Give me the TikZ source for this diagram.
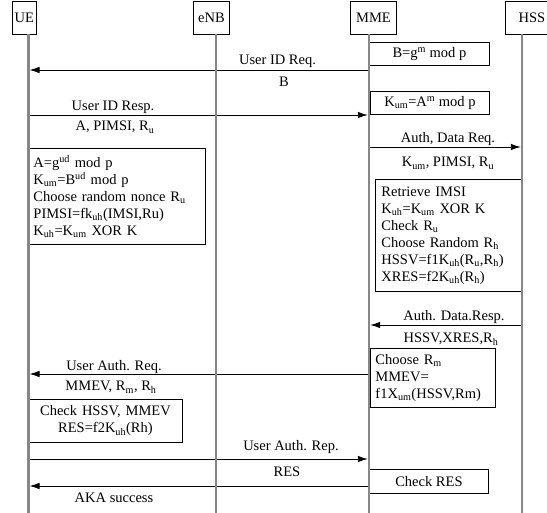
\documentclass[tikz,border=0pt]{standalone}
\usepackage{fontspec}
\setmainfont{Liberation Serif}
\usetikzlibrary{arrows.meta}
\definecolor{lifegray}{RGB}{135,135,135}
\begin{document}
\begin{tikzpicture}[x=1pt,y=-1pt,
  every node/.style={font=\fontsize{14.5}{17}\selectfont, inner sep=0pt},
  box/.style={draw=black, line width=0.9pt, inner sep=0pt},
  lifeline/.style={draw=lifegray, line width=2.6pt},
  msg/.style={draw=black, line width=0.9pt, shorten >=1.2pt, -{Latex[length=10pt,width=6.5pt]}},
  lbl/.style={anchor=base},
]
\useasboundingbox (0,0) rectangle (547,513);
\clip (0,0) rectangle (547,513);

% ---- header boxes
\node[box, anchor=north west, minimum width=24.3pt, minimum height=33pt] (ue) at (11.7,1) {UE};
\node[box, anchor=north west, minimum width=36pt, minimum height=33pt] (enb) at (193,1) {eNB};
\node[box, anchor=north west, minimum width=46pt, minimum height=33pt] (mme) at (350,1) {MME};
\node[box, anchor=north west, minimum width=53pt, minimum height=33pt] (hss) at (505,1) {HSS};

% ---- lifeline end points
\coordinate (ueT) at (28.3,34);  \coordinate (ueB) at (28.3,514);
\coordinate (enbT) at (216,34);  \coordinate (enbB) at (216,514);
\coordinate (mmeT) at (369,34);  \coordinate (mmeB) at (369,514);
\coordinate (hssT) at (522,34);  \coordinate (hssB) at (522,514);

% ---- computation boxes
\node[box, anchor=north west, minimum width=120pt, minimum height=23pt] (bbox) at (369,42)
  {B=g\textsuperscript{m} mod p};
\node[box, anchor=north west, minimum width=119pt, minimum height=23pt] (kbox) at (370,91)
  {K\textsubscript{um}=A\textsuperscript{m} mod p};
\node[box, anchor=north west, inner xsep=5pt, text width=167pt, minimum height=96pt, align=left] (uebox) at (28,148)
  {A=g\textsuperscript{ud} mod p\\
   K\textsubscript{um}=B\textsuperscript{ud} mod p\\
   Choose random nonce R\textsubscript{u}\\
   PIMSI=fk\textsubscript{uh}(IMSI,Ru)\\
   K\textsubscript{uh}=K\textsubscript{um} XOR K};
\node[box, anchor=north west, inner xsep=6pt, text width=135pt, minimum height=112pt, align=left] (hssbox) at (375,179)
  {Retrieve IMSI\\
   K\textsubscript{uh}=K\textsubscript{um} XOR K\\
   Check R\textsubscript{u}\\
   Choose Random R\textsubscript{h}\\
   HSSV=f1K\textsubscript{uh}(R\textsubscript{u},R\textsubscript{h})\\
   XRES=f2K\textsubscript{uh}(R\textsubscript{h})};
\node[box, anchor=north west, inner xsep=5pt, text width=115pt, minimum height=59pt, align=left] (mmebox) at (370,348)
  {Choose R\textsubscript{m}\\
   MMEV=\\
   f1X\textsubscript{um}(HSSV,Rm)};
\node[box, anchor=north west, inner xsep=5pt, text width=144pt, minimum height=43pt, align=center] (uebox2) at (28,399)
  {Check HSSV, MMEV\\
   RES=f2K\textsubscript{uh}(Rh)};
\node[box, anchor=north west, minimum width=119pt, minimum height=24pt] (resbox) at (369,469)
  {Check RES};

% ---- message end points
\coordinate (m1s) at (369,70);  \coordinate (m1e) at (28.3,70);
\coordinate (m2s) at (28.3,115); \coordinate (m2e) at (369,115);
\coordinate (m3s) at (369,147); \coordinate (m3e) at (522,147);
\coordinate (m4s) at (522,325); \coordinate (m4e) at (369,325);
\coordinate (m5s) at (369,374); \coordinate (m5e) at (28.3,374);
\coordinate (m6s) at (28.3,459); \coordinate (m6e) at (369,459);
\coordinate (m7s) at (369,486); \coordinate (m7e) at (28.3,486);

\draw[msg] (m1s) -- (m1e);
\draw[msg] (m2s) -- (m2e);
\draw[msg] (m3s) -- (m3e);
\draw[msg] (m4s) -- (m4e);
\draw[msg] (m5s) -- (m5e);
\draw[msg] (m6s) -- (m6e);
\draw[msg] (m7s) -- (m7e);

% ---- lifelines
\draw[lifeline] (ueT) -- (ueB);
\draw[lifeline] (enbT) -- (enbB);
\draw[lifeline] (mmeT) -- (mmeB);
\draw[lifeline] (hssT) -- (hssB);

% ---- message labels
\node[lbl] (l1) at (277.5,65) {User ID Req.};
\node[lbl] (l2) at (284,87) {B};
\node[lbl] (l3) at (113,111) {User ID Resp.};
\node[lbl] (l4) at (115,131) {A, PIMSI, R\textsubscript{u}};
\node[lbl] (l5) at (448,143) {Auth, Data Req.};
\node[lbl] (l6) at (448,167) {K\textsubscript{um}, PIMSI, R\textsubscript{u}};
\node[lbl] (l7) at (454,321) {Auth. Data.Resp.};
\node[lbl] (l8) at (451,343) {HSSV,XRES,R\textsubscript{h}};
\node[lbl] (l9) at (114,371) {User Auth. Req.};
\node[lbl] (l10) at (111,391) {MMEV, R\textsubscript{m}, R\textsubscript{h}};
\node[lbl] (l11) at (291,451) {User Auth. Rep.};
\node[lbl] (l12) at (287,476) {RES};
\node[lbl] (l13) at (114,502) {AKA success};
\end{tikzpicture}
\end{document}
